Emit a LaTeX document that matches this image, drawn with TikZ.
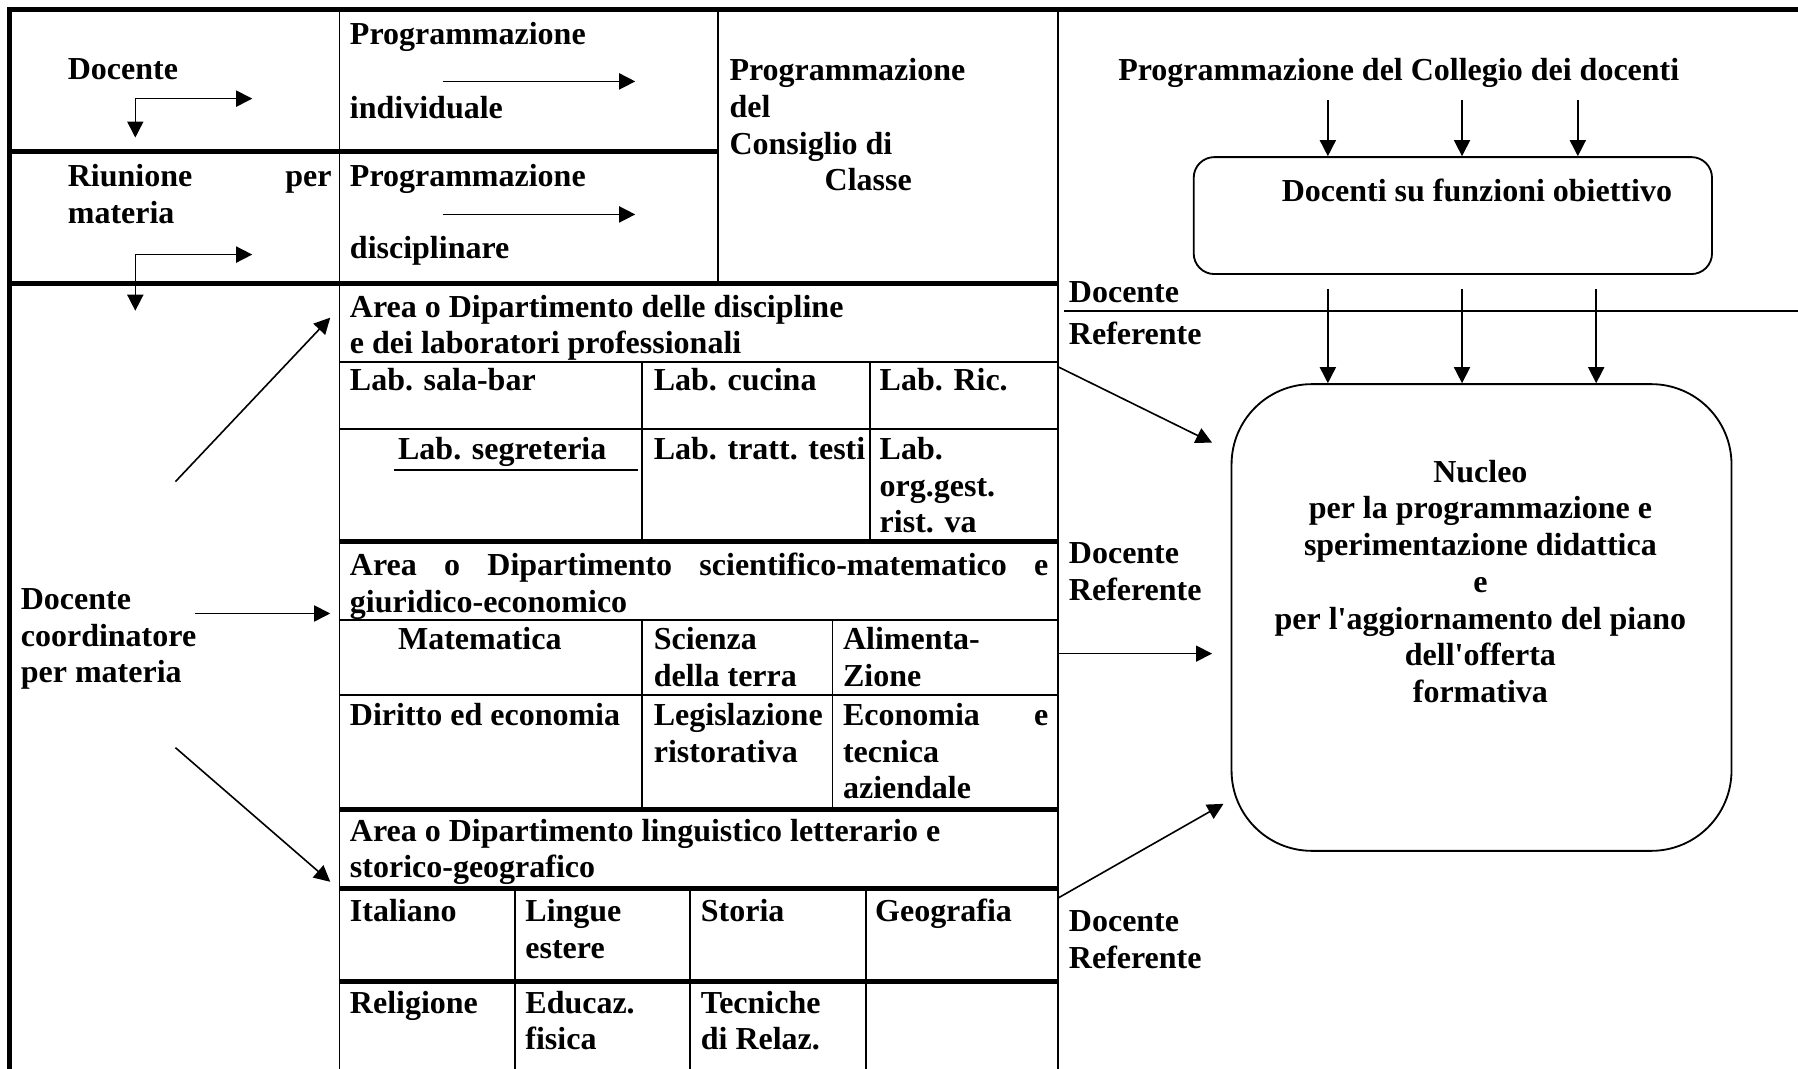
\documentclass[tikz,border=0pt]{standalone}
\usepackage{fontspec}
\setmainfont{Liberation Serif}
\usetikzlibrary{arrows.meta}

\tikzset{
    rule/.style={line width=1.6pt},
    heavyrule/.style={line width=4.4pt},
    arr/.style={line width=1.4pt, -{Triangle[length=14pt, width=14pt]}},
    txt/.style={anchor=north west, inner sep=0pt, align=left},
    roundbox/.style={draw, line width=1.6pt, rounded corners=#1, inner sep=0pt},
}

\begin{document}
\begin{tikzpicture}[x=1pt, y=-1pt, font=\fontsize{27.9}{32}\selectfont\bfseries]
        \useasboundingbox (0,0) rectangle (1568,932);

        % frame of the table
        \draw[heavyrule] (8,932) -- (8,8) -- (1568,8);
        \draw[heavyrule] (8,132) -- (626,132);
        \draw[heavyrule] (8,247) -- (923,247);
        \draw[rule] (296,8) -- (296,932);
        \draw[rule] (626,8) -- (626,247);
        \draw[rule] (923,8) -- (923,932);

        \draw[rule] (296,316) -- (923,316);
        \draw[rule] (296,374) -- (923,374);
        \draw[heavyrule] (296,472) -- (923,472);
        \draw[rule] (296,541) -- (923,541);
        \draw[rule] (296,606) -- (923,606);
        \draw[heavyrule] (296,706) -- (923,706);
        \draw[heavyrule] (296,775) -- (923,775);
        \draw[heavyrule] (296,856) -- (923,856);

        \draw[rule] (560,316) -- (560,472);
        \draw[rule] (759,316) -- (759,472);
        \draw[rule] (560,541) -- (560,706);
        \draw[rule] (726,541) -- (726,706);
        \draw[rule] (449,775) -- (449,932);
        \draw[rule] (602,775) -- (602,932);
        \draw[rule] (755,775) -- (755,932);

        % left column
        \node[txt] (docente) at (59,51) {Docente};
        \node[txt] (riunione) at (59,143) {\makebox[230pt][s]{Riunione per}\\materia};
        \node[txt] (coord) at (18,513) {Docente\\coordinatore\\per materia};

        \coordinate (elbowA) at (118,86);
        \coordinate (elbowAr) at (220,86);
        \coordinate (elbowAd) at (118,120);
        \draw[arr] (elbowA) -- (elbowAr);
        \draw[arr] (elbowA) -- (elbowAd);
        \coordinate (elbowB) at (118,222);
        \coordinate (elbowBr) at (220,222);
        \coordinate (elbowBd) at (118,271);
        \draw[arr] (elbowB) -- (elbowBr);
        \draw[arr] (elbowB) -- (elbowBd);

        \coordinate (coordUp) at (153,420);
        \coordinate (coordMid) at (170,535);
        \coordinate (coordDown) at (153,652);
        \coordinate (areaLab) at (288,277);
        \coordinate (areaSci) at (288,535);
        \coordinate (areaLin) at (288,769);
        \draw[arr] (coordUp) -- (areaLab);
        \draw[arr] (coordMid) -- (areaSci);
        \draw[arr] (coordDown) -- (areaLin);

        % programmazione
        \node[txt] (progInd) at (305,19) {Programmazione};
        \node[txt] (individuale) at (305,84) {individuale};
        \coordinate (indA) at (386,71);
        \coordinate (indB) at (554,71);
        \draw[arr] (indA) -- (indB);
        \node[txt] (progDis) at (305,143) {Programmazione};
        \node[txt] (disciplinare) at (305,206) {disciplinare};
        \coordinate (disA) at (386,187);
        \coordinate (disB) at (554,187);
        \draw[arr] (disA) -- (disB);

        \node[txt] (consiglio) at (636,51) {Programmazione\\del\\Consiglio di\\\hspace*{83pt}Classe};

        % areas
        \node[txt] (lab) at (305,257) {Area o Dipartimento delle discipline\\e dei laboratori professionali};
        \node[txt] (salabar) at (305,321) {Lab. sala-bar};
        \node[txt] (cucina) at (570,321) {Lab. cucina};
        \node[txt] (ric) at (767,321) {Lab. Ric.};
        \node[txt] (segreteria) at (347,381) {Lab. segreteria};
        \draw[rule] (344,410) -- (556,410);
        \node[txt] (testi) at (570,381) {Lab. tratt. testi};
        \node[txt] (orggest) at (767,381) {Lab.\\org.gest.\\rist. va};

        \node[txt] (sci) at (305,482) {\makebox[609pt][s]{Area o Dipartimento scientifico-matematico e}\\giuridico-economico};
        \node[txt] (matematica) at (347,547) {Matematica};
        \node[txt] (scienza) at (570,547) {Scienza\\della terra};
        \node[txt] (alimenta) at (735,547) {Alimenta-\\Zione};
        \node[txt] (diritto) at (305,613) {Diritto ed economia};
        \node[txt] (legisl) at (570,613) {Legislazione\\ristorativa};
        \node[txt] (economia) at (735,613) {\makebox[179pt][s]{Economia e}\\tecnica\\aziendale};

        \node[txt] (lin) at (305,714) {Area o Dipartimento linguistico letterario e\\storico-geografico};
        \node[txt] (italiano) at (305,784) {Italiano};
        \node[txt] (lingue) at (458,784) {Lingue\\estere};
        \node[txt] (storia) at (611,784) {Storia};
        \node[txt] (geografia) at (763,784) {Geografia};
        \node[txt] (religione) at (305,864) {Religione};
        \node[txt] (educaz) at (458,864) {Educaz.\\fisica};
        \node[txt] (tecniche) at (611,864) {Tecniche\\di Relaz.};

        % right side
        \node[txt] (collegio) at (975,51) {Programmazione del Collegio dei docenti};
        \node[roundbox=18pt, minimum width=452pt, minimum height=102pt] (funzioni) at (1267,188) {};
        \node[anchor=base, inner sep=0pt] (funzioniTxt) at (1288,176) {Docenti su funzioni obiettivo};
        \node[roundbox=70pt, minimum width=436pt, minimum height=407pt] (nucleo) at (1292,538.5) {};
        \node[anchor=north, inner sep=0pt, align=center] (nucleoTxt) at (1291,401) {Nucleo\\per la programmazione e\\sperimentazione didattica\\e\\per l\textquotesingle aggiornamento del piano\\dell\textquotesingle offerta\\formativa};

        \coordinate (colA) at (1158,87);
        \coordinate (colB) at (1275,87);
        \coordinate (colC) at (1376,87);
        \draw[arr] (colA) -- (colA |- funzioni.north);
        \draw[arr] (colB) -- (colB |- funzioni.north);
        \draw[arr] (colC) -- (colC |- funzioni.north);

        \node[txt] (refTop) at (932,245) {Docente};
        \draw[rule] (928,271) -- (1568,271);
        \node[txt] (refTopB) at (932,281) {Referente};

        \coordinate (funA) at (1158,252);
        \coordinate (funB) at (1275,252);
        \coordinate (funC) at (1392,252);
        \draw[arr] (funA) -- (funA |- nucleo.north);
        \draw[arr] (funB) -- (funB |- nucleo.north);
        \draw[arr] (funC) -- (funC |- nucleo.north);

        \node[txt] (refMid) at (932,473) {Docente\\Referente};
        \node[txt] (refLow) at (932,794) {Docente\\Referente};

        \coordinate (fromLab) at (923,320);
        \coordinate (toLab) at (1057,386);
        \coordinate (fromSci) at (923,570);
        \coordinate (toSci) at (1057,570);
        \coordinate (fromLin) at (923,783);
        \coordinate (toLin) at (1067,701);
        \draw[arr] (fromLab) -- (toLab);
        \draw[arr] (fromSci) -- (toSci);
        \draw[arr] (fromLin) -- (toLin);

\end{tikzpicture}
\end{document}
